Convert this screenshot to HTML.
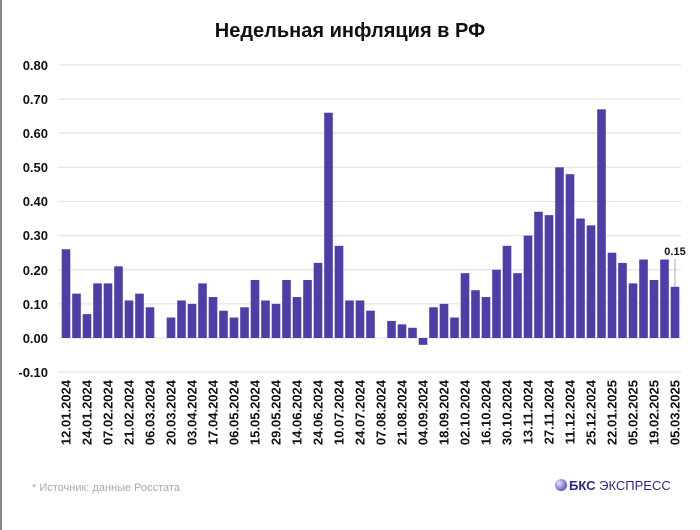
<!DOCTYPE html>
<html><head><meta charset="utf-8"><style>
body{margin:0;background:#fff;}
svg{display:block;font-family:"Liberation Sans",sans-serif;}
</style></head><body>
<svg width="700" height="530" viewBox="0 0 700 530">
<rect x="0" y="0" width="700" height="530" fill="#fff"/>
<rect x="0" y="0" width="2" height="530" fill="#888"/>
<text x="350" y="37" text-anchor="middle" font-size="20" font-weight="bold" fill="#111">Недельная инфляция в РФ</text>
<g stroke="#e6e6e6" stroke-width="1.3">
<line x1="58" x2="681" y1="65" y2="65"/><line x1="58" x2="681" y1="99.1" y2="99.1"/><line x1="58" x2="681" y1="133.2" y2="133.2"/><line x1="58" x2="681" y1="167.4" y2="167.4"/><line x1="58" x2="681" y1="201.5" y2="201.5"/><line x1="58" x2="681" y1="235.6" y2="235.6"/><line x1="58" x2="681" y1="269.8" y2="269.8"/><line x1="58" x2="681" y1="303.9" y2="303.9"/><line x1="58" x2="681" y1="338" y2="338"/><line x1="58" x2="681" y1="372.1" y2="372.1"/>
</g>
<g font-size="13" font-weight="bold" fill="#111" text-anchor="end">
<text x="48" y="70">0.80</text><text x="48" y="104">0.70</text><text x="48" y="138">0.60</text><text x="48" y="172">0.50</text><text x="48" y="206">0.40</text><text x="48" y="240">0.30</text><text x="48" y="275">0.20</text><text x="48" y="309">0.10</text><text x="48" y="343">0.00</text><text x="48" y="377">-0.10</text>
</g>
<g transform="translate(0,338) scale(1,-341.3)" fill="#4f3ea8">
<rect x="61.7" width="8.6" y="0" height="0.26"/><rect x="72.2" width="8.6" y="0" height="0.13"/><rect x="82.7" width="8.6" y="0" height="0.07"/><rect x="93.2" width="8.6" y="0" height="0.16"/><rect x="103.7" width="8.6" y="0" height="0.16"/><rect x="114.2" width="8.6" y="0" height="0.21"/><rect x="124.7" width="8.6" y="0" height="0.11"/><rect x="135.2" width="8.6" y="0" height="0.13"/><rect x="145.7" width="8.6" y="0" height="0.09"/>
<rect x="166.7" width="8.6" y="0" height="0.06"/><rect x="177.2" width="8.6" y="0" height="0.11"/><rect x="187.7" width="8.6" y="0" height="0.10"/><rect x="198.2" width="8.6" y="0" height="0.16"/><rect x="208.7" width="8.6" y="0" height="0.12"/><rect x="219.2" width="8.6" y="0" height="0.08"/><rect x="229.7" width="8.6" y="0" height="0.06"/><rect x="240.2" width="8.6" y="0" height="0.09"/><rect x="250.7" width="8.6" y="0" height="0.17"/><rect x="261.2" width="8.6" y="0" height="0.11"/><rect x="271.7" width="8.6" y="0" height="0.10"/><rect x="282.2" width="8.6" y="0" height="0.17"/><rect x="292.7" width="8.6" y="0" height="0.12"/><rect x="303.2" width="8.6" y="0" height="0.17"/><rect x="313.7" width="8.6" y="0" height="0.22"/><rect x="324.2" width="8.6" y="0" height="0.66"/><rect x="334.7" width="8.6" y="0" height="0.27"/><rect x="345.2" width="8.6" y="0" height="0.11"/><rect x="355.7" width="8.6" y="0" height="0.11"/><rect x="366.2" width="8.6" y="0" height="0.08"/>
<rect x="387.2" width="8.6" y="0" height="0.05"/><rect x="397.7" width="8.6" y="0" height="0.04"/><rect x="408.2" width="8.6" y="0" height="0.03"/><rect x="418.7" width="8.6" y="-0.02" height="0.02"/><rect x="429.2" width="8.6" y="0" height="0.09"/><rect x="439.7" width="8.6" y="0" height="0.10"/><rect x="450.2" width="8.6" y="0" height="0.06"/><rect x="460.7" width="8.6" y="0" height="0.19"/><rect x="471.2" width="8.6" y="0" height="0.14"/><rect x="481.7" width="8.6" y="0" height="0.12"/><rect x="492.2" width="8.6" y="0" height="0.20"/><rect x="502.7" width="8.6" y="0" height="0.27"/><rect x="513.2" width="8.6" y="0" height="0.19"/><rect x="523.7" width="8.6" y="0" height="0.30"/><rect x="534.2" width="8.6" y="0" height="0.37"/><rect x="544.7" width="8.6" y="0" height="0.36"/><rect x="555.2" width="8.6" y="0" height="0.50"/><rect x="565.7" width="8.6" y="0" height="0.48"/><rect x="576.2" width="8.6" y="0" height="0.35"/><rect x="586.7" width="8.6" y="0" height="0.33"/><rect x="597.2" width="8.6" y="0" height="0.67"/><rect x="607.7" width="8.6" y="0" height="0.25"/><rect x="618.2" width="8.6" y="0" height="0.22"/><rect x="628.7" width="8.6" y="0" height="0.16"/><rect x="639.2" width="8.6" y="0" height="0.23"/><rect x="649.7" width="8.6" y="0" height="0.17"/><rect x="660.2" width="8.6" y="0" height="0.23"/><rect x="670.7" width="8.6" y="0" height="0.15"/>
</g>
<line x1="675" x2="675" y1="259" y2="287" stroke="#999" stroke-width="0.8"/>
<text x="675" y="255" text-anchor="middle" font-size="11" font-weight="bold" fill="#111">0.15</text>
<g font-size="13" font-weight="bold" fill="#111" text-anchor="end">
<text transform="translate(70.7,380) rotate(-90)">12.01.2024</text>
<text transform="translate(91.7,380) rotate(-90)">24.01.2024</text>
<text transform="translate(112.7,380) rotate(-90)">07.02.2024</text>
<text transform="translate(133.7,380) rotate(-90)">21.02.2024</text>
<text transform="translate(154.7,380) rotate(-90)">06.03.2024</text>
<text transform="translate(175.7,380) rotate(-90)">20.03.2024</text>
<text transform="translate(196.7,380) rotate(-90)">03.04.2024</text>
<text transform="translate(217.7,380) rotate(-90)">17.04.2024</text>
<text transform="translate(238.7,380) rotate(-90)">06.05.2024</text>
<text transform="translate(259.7,380) rotate(-90)">15.05.2024</text>
<text transform="translate(280.7,380) rotate(-90)">29.05.2024</text>
<text transform="translate(301.7,380) rotate(-90)">14.06.2024</text>
<text transform="translate(322.7,380) rotate(-90)">24.06.2024</text>
<text transform="translate(343.7,380) rotate(-90)">10.07.2024</text>
<text transform="translate(364.7,380) rotate(-90)">24.07.2024</text>
<text transform="translate(385.7,380) rotate(-90)">07.08.2024</text>
<text transform="translate(406.7,380) rotate(-90)">21.08.2024</text>
<text transform="translate(427.7,380) rotate(-90)">04.09.2024</text>
<text transform="translate(448.7,380) rotate(-90)">18.09.2024</text>
<text transform="translate(469.7,380) rotate(-90)">02.10.2024</text>
<text transform="translate(490.7,380) rotate(-90)">16.10.2024</text>
<text transform="translate(511.7,380) rotate(-90)">30.10.2024</text>
<text transform="translate(532.7,380) rotate(-90)">13.11.2024</text>
<text transform="translate(553.7,380) rotate(-90)">27.11.2024</text>
<text transform="translate(574.7,380) rotate(-90)">11.12.2024</text>
<text transform="translate(595.7,380) rotate(-90)">25.12.2024</text>
<text transform="translate(616.7,380) rotate(-90)">22.01.2025</text>
<text transform="translate(637.7,380) rotate(-90)">05.02.2025</text>
<text transform="translate(658.7,380) rotate(-90)">19.02.2025</text>
<text transform="translate(679.7,380) rotate(-90)">05.03.2025</text>
</g>
<text x="32" y="491" font-size="11" fill="#aaa">* Источник: данные Росстата</text>
<defs><radialGradient id="gl" cx="0.35" cy="0.35" r="0.7"><stop offset="0" stop-color="#e8e6ff"/><stop offset="1" stop-color="#5a4fc0"/></radialGradient></defs>
<circle cx="561" cy="485" r="6" fill="url(#gl)"/>
<text x="569" y="490" font-size="13" fill="#2a2a8a"><tspan font-weight="bold">БКС</tspan> ЭКСПРЕСС</text>
</svg>
</body></html>
